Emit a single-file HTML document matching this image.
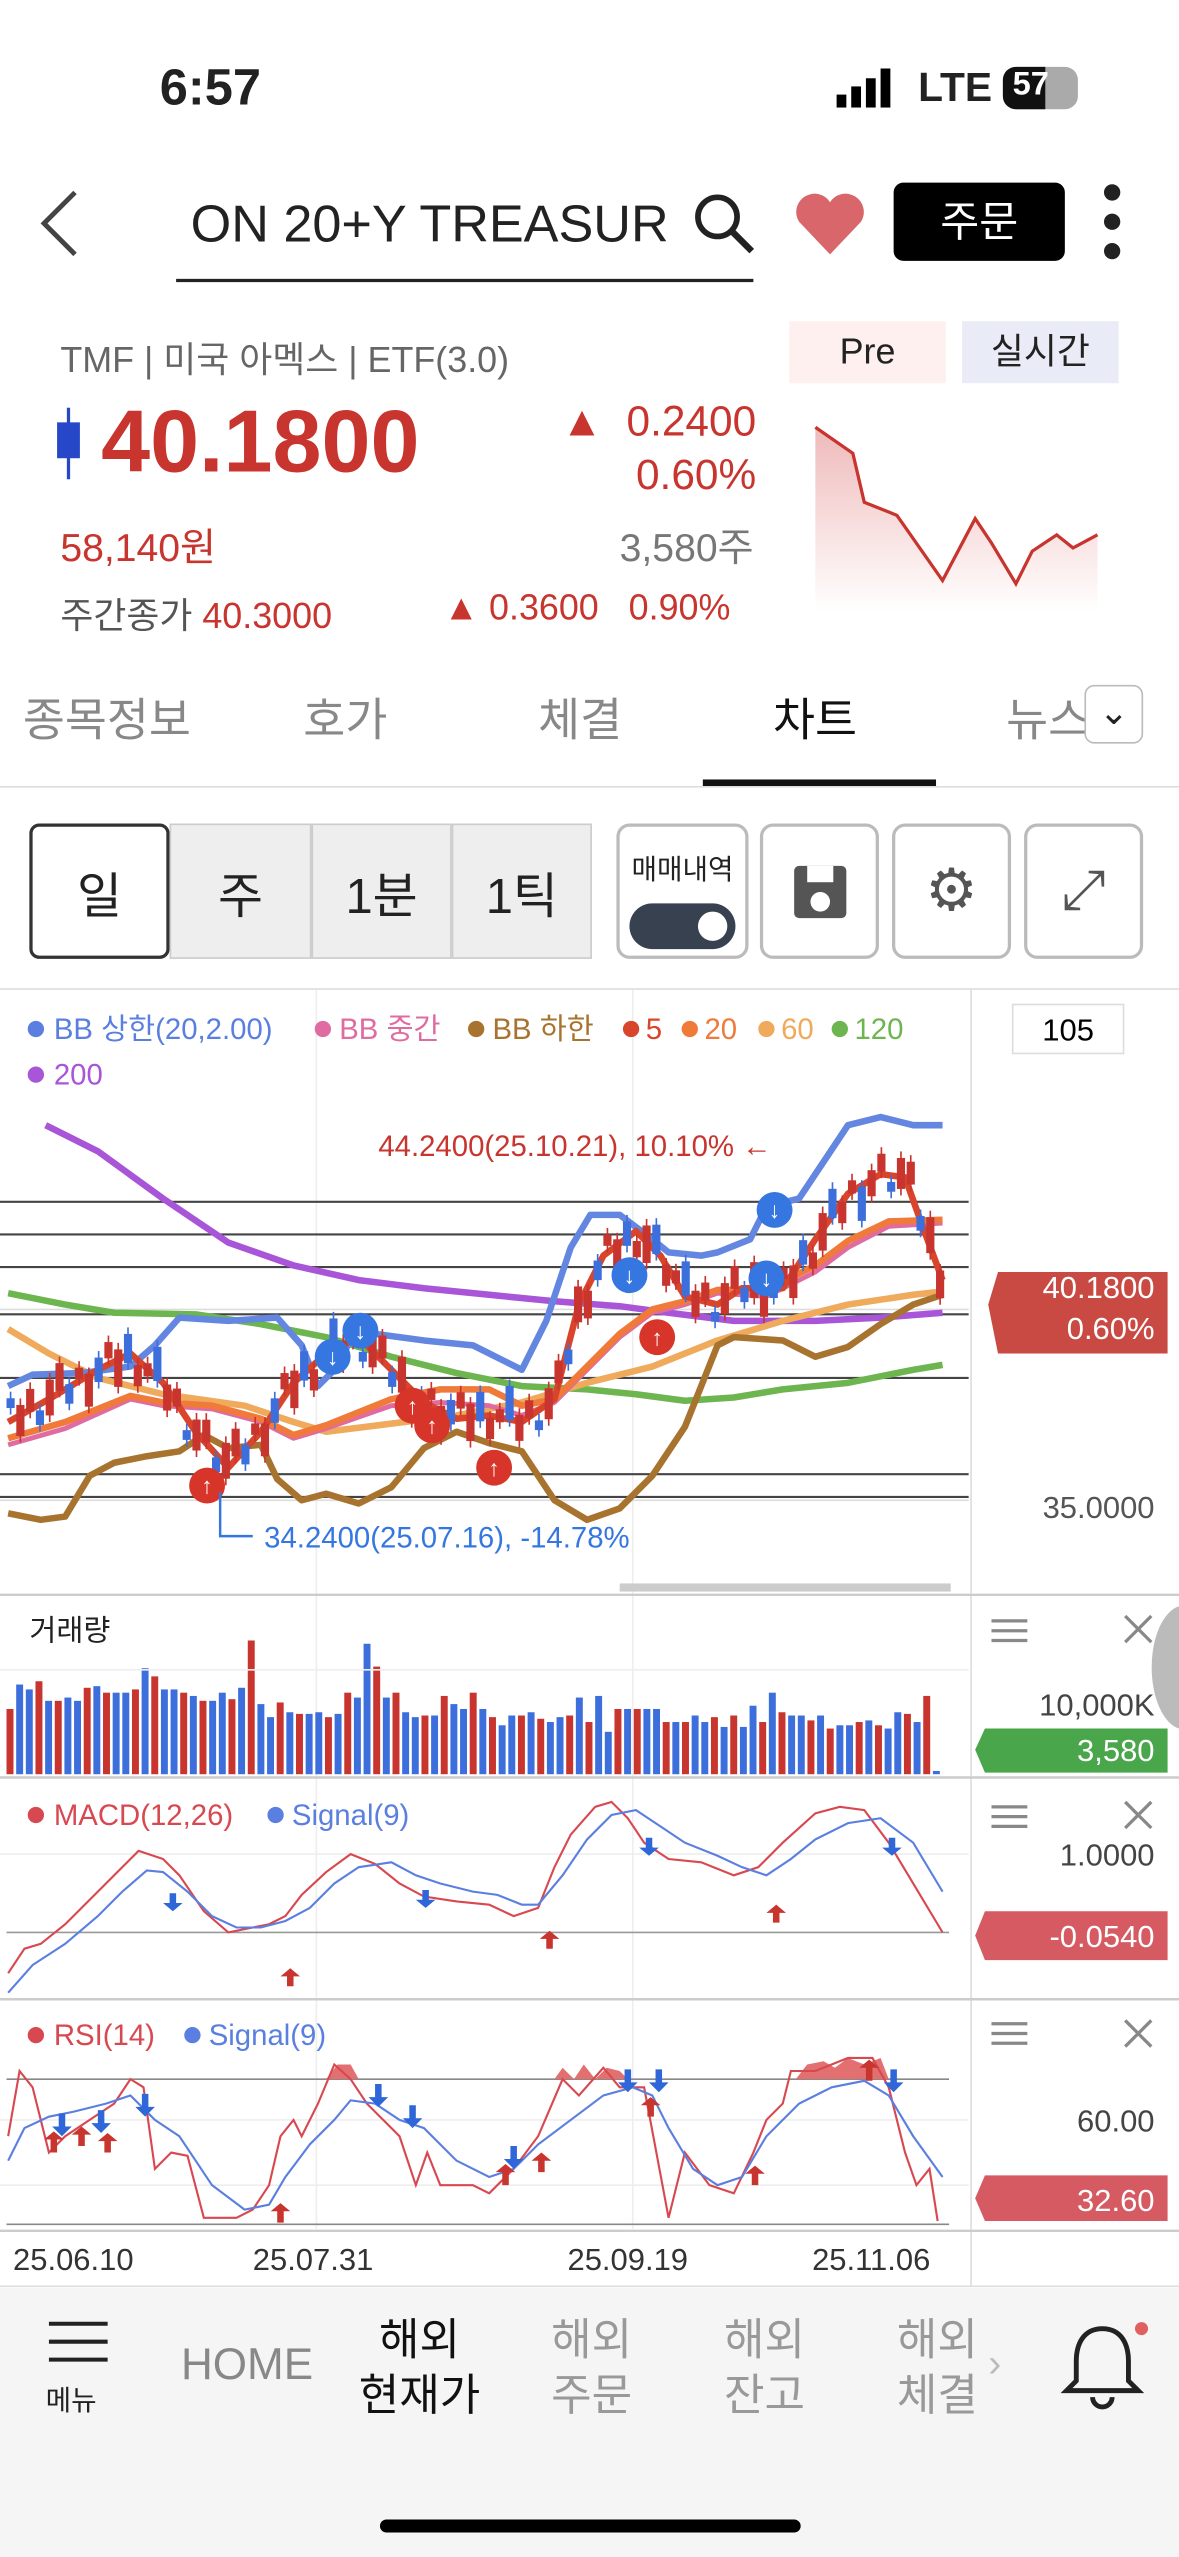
<!DOCTYPE html>
<html><head><meta charset="utf-8">
<style>
*{margin:0;padding:0;box-sizing:border-box}
html,body{width:1179px;height:2556px;overflow:hidden;background:#fff}
#w{position:absolute;left:0;top:0;width:723px;height:1568px;transform:scale(1.63071);transform-origin:0 0;font-family:"Liberation Sans","Noto Sans CJK KR",sans-serif;color:#222}
.a{position:absolute;white-space:nowrap}
.btn{position:absolute;top:505px;height:83px;background:#eee;border:1px solid #ccc;font-size:30px;display:flex;align-items:center;justify-content:center}
.ib{position:absolute;top:505px;width:73px;height:83px;border:2px solid #bbb;border-radius:8px;background:#fff}
</style></head><body><div id="w">
<div class="a" style="left:98px;top:36px;font-size:31px;font-weight:bold">6:57</div>
<svg class="a" style="left:513px;top:42px" width="40" height="24"><rect x="0" y="16" width="6" height="8" fill="#000"/><rect x="9" y="11" width="6" height="13" fill="#000"/><rect x="18" y="6" width="6" height="18" fill="#000"/><rect x="27" y="0" width="6" height="24" fill="#000"/></svg>
<div class="a" style="left:563px;top:40px;font-size:25px;font-weight:bold">LTE</div>
<div class="a" style="left:615px;top:41px;width:46px;height:26px;border-radius:8px;background:#aaa"><div style="width:26px;height:26px;background:#111;border-radius:8px 0 0 8px;color:#fff;font-size:20px;font-weight:bold;padding-left:6px">57</div></div>
<svg class="a" style="left:22px;top:115px" width="30" height="44"><polyline points="24,3 5,22 24,41" fill="none" stroke="#444" stroke-width="3"/></svg>
<div class="a" style="left:108px;top:115px;width:354px;height:58px;border-bottom:2px solid #222;overflow:hidden;font-size:32px;padding-top:4px">&nbsp;ON 20+Y TREASUR</div>
<svg class="a" style="left:424px;top:117px" width="40" height="40"><circle cx="16" cy="16" r="12" fill="none" stroke="#222" stroke-width="3.5"/><line x1="25" y1="25" x2="37" y2="37" stroke="#222" stroke-width="4"/></svg>
<svg class="a" style="left:486px;top:116px" width="46" height="42"><path d="M23,40 L4,20 A10,10 0 0 1 23,8 A10,10 0 0 1 42,20 Z" fill="#d9666a"/></svg>
<div class="a" style="left:548px;top:112px;width:105px;height:48px;background:#000;border-radius:6px;color:#fff;font-size:26px;text-align:center;line-height:48px">주문</div>
<svg class="a" style="left:674px;top:112px" width="16" height="48"><circle cx="8" cy="6" r="5" fill="#222"/><circle cx="8" cy="24" r="5" fill="#222"/><circle cx="8" cy="42" r="5" fill="#222"/></svg>
<div class="a" style="left:37px;top:203px;font-size:22px;color:#666">TMF | 미국 아멕스 | ETF(3.0)</div>
<div class="a" style="left:484px;top:197px;width:96px;height:38px;background:#fdf0ef;font-size:22px;text-align:center;line-height:38px">Pre</div>
<div class="a" style="left:590px;top:197px;width:96px;height:38px;background:#e9ecf6;font-size:22px;text-align:center;line-height:38px">실시간</div>
<svg class="a" style="left:34px;top:250px" width="16" height="44"><line x1="8" y1="0" x2="8" y2="44" stroke="#2747c9" stroke-width="2"/><rect x="1" y="9" width="14" height="22" fill="#2747c9"/></svg>
<div class="a" style="left:62px;top:240px;font-size:54px;font-weight:bold;color:#c8342e">40.1800</div>
<div class="a" style="left:344px;top:243px;font-size:26px;color:#c8342e">▲ &nbsp;0.2400</div>
<div class="a" style="left:390px;top:276px;font-size:26px;color:#c8342e">0.60%</div>
<div class="a" style="left:37px;top:316px;font-size:24px;color:#c8342e">58,140원</div>
<div class="a" style="left:380px;top:316px;font-size:24px;color:#777">3,580주</div>
<div class="a" style="left:37px;top:360px;font-size:22px;color:#555">주간종가 <span style="color:#c8342e">40.3000</span></div>
<div class="a" style="left:272px;top:360px;font-size:22px;color:#c8342e">▲ 0.3600 &nbsp;&nbsp;0.90%</div>
<svg class="a" style="left:498px;top:258px" width="178" height="120"><defs><linearGradient id="g" x1="0" y1="0" x2="0" y2="1"><stop offset="0" stop-color="#e79b9b"/><stop offset="1" stop-color="#fff"/></linearGradient></defs><polygon points="2,4 25,20 32,50 52,58 80,98 100,60 110,75 125,100 135,80 150,70 160,78 175,70 175,118 2,118" fill="url(#g)" opacity=".7"/><polyline points="2,4 25,20 32,50 52,58 80,98 100,60 110,75 125,100 135,80 150,70 160,78 175,70" fill="none" stroke="#c8342e" stroke-width="2"/></svg>
<div class="a" style="left:14px;top:420px;font-size:28px;color:#888">종목정보</div>
<div class="a" style="left:186px;top:420px;font-size:28px;color:#888">호가</div>
<div class="a" style="left:330px;top:420px;font-size:28px;color:#888">체결</div>
<div class="a" style="left:474px;top:420px;font-size:28px;color:#111">차트</div>
<div class="a" style="left:617px;top:420px;font-size:28px;color:#888">뉴스</div>
<div class="a" style="left:665px;top:420px;width:36px;height:36px;border:1px solid #bbb;border-radius:6px;background:#fff;text-align:center;font-size:22px;line-height:32px">⌄</div>
<div class="a" style="left:431px;top:478px;width:143px;height:4px;background:#111"></div>
<div class="a" style="left:0;top:482px;width:723px;height:1px;background:#ddd"></div>
<div class="btn" style="left:18px;width:86px;background:#fff;border:2px solid #333;border-radius:6px">일</div>
<div class="btn" style="left:104px;width:87px">주</div>
<div class="btn" style="left:191px;width:86px">1분</div>
<div class="btn" style="left:277px;width:86px">1틱</div>
<div class="ib" style="left:378px;width:81px"><div style="font-size:17px;text-align:center;margin-top:12px">매매내역</div><div style="margin:10px 6px 0;height:28px;background:#38414f;border-radius:14px;position:relative"><div style="position:absolute;right:5px;top:5px;width:18px;height:18px;border-radius:9px;background:#fff"></div></div></div>
<div class="ib" style="left:466px"><div style="margin:24px auto;width:32px;height:32px;background:#555;border-radius:3px;position:relative"><div style="position:absolute;left:8px;top:0;width:16px;height:10px;background:#fff"></div><div style="position:absolute;left:10px;top:16px;width:12px;height:12px;border-radius:6px;background:#fff"></div></div></div>
<div class="ib" style="left:547px;font-size:36px;color:#555;text-align:center;line-height:78px">⚙</div>
<div class="ib" style="left:628px;font-size:34px;color:#555;text-align:center;line-height:78px">⤢</div>
<div class="a" style="left:0;top:606px;width:723px;height:1px;background:#ddd"></div>
<div class="a" style="left:595px;top:607px;width:1px;height:795px;background:#ddd"></div>
<svg class="a" style="left:0;top:0" width="723" height="1568" id="ch">
<g stroke="#eee" stroke-width="1"><line x1="194" y1="607" x2="194" y2="1367"/><line x1="388" y1="607" x2="388" y2="1367"/></g>
<g stroke="#444" stroke-width="1.3"><line x1="0" y1="737" x2="594" y2="737"/><line x1="0" y1="757" x2="594" y2="757"/><line x1="0" y1="777" x2="594" y2="777"/><line x1="0" y1="806" x2="594" y2="806"/><line x1="0" y1="845" x2="594" y2="845"/><line x1="0" y1="904" x2="594" y2="904"/><line x1="0" y1="918" x2="594" y2="918"/></g>
<line x1="0" y1="803" x2="594" y2="803" stroke="#ddd"/>
<line x1="0" y1="920" x2="594" y2="920" stroke="#ddd"/>
<g fill="none" stroke-width="4" stroke-linejoin="round">
<polyline stroke="#a855d8" points="28,690 60,706 100,735 140,762 180,776 220,785 260,790 300,794 340,798 380,801 410,805 450,810 500,810 540,808 578,805"/>
<polyline stroke="#6db54f" points="5,793 40,800 70,805 120,806 160,812 200,820 240,832 280,842 320,850 360,852 390,855 420,859 450,857 480,852 520,848 560,840 578,837"/>
<polyline stroke="#efaa5c" points="5,815 30,830 60,845 100,855 150,862 180,872 200,878 240,873 280,868 320,860 360,848 400,838 440,822 480,810 520,800 560,794 578,792"/>
<polyline stroke="#6386e0" points="5,850 20,843 50,842 80,838 95,825 110,808 140,810 170,808 185,825 195,850 205,840 215,822 230,818 260,822 290,825 310,835 320,840 335,810 350,765 362,745 380,745 400,760 410,768 430,770 440,768 460,760 470,740 490,735 510,705 520,690 540,685 560,690 578,690"/>
<polyline stroke="#a8732e" points="5,928 25,932 40,930 55,905 70,897 90,893 110,890 125,880 140,888 160,886 170,907 185,920 200,916 220,922 240,912 260,888 280,878 300,885 320,890 340,920 360,932 380,925 400,905 420,875 430,850 440,825 450,820 480,822 500,832 520,826 540,812 560,800 578,794"/>
<polyline stroke="#e06ba0" points="5,886 40,876 80,858 100,862 130,864 160,872 180,882 200,876 240,862 270,860 300,862 320,868 340,860 360,840 380,820 400,805 420,800 440,793 470,795 500,780 520,765 545,752 578,750" stroke-width="3"/>
<polyline stroke="#ef7a3a" points="5,882 40,872 80,856 100,860 130,862 160,870 180,880 200,874 240,858 270,852 300,852 320,862 340,858 360,838 380,818 400,803 420,798 440,791 470,791 500,776 520,761 545,749 578,748"/>
<polyline stroke="#d8452a" points="5,872 30,858 60,840 80,830 100,848 120,878 140,900 160,878 180,848 200,830 220,820 240,840 260,860 280,870 300,868 320,872 340,858 355,800 370,770 390,755 405,770 420,795 440,800 455,790 480,790 500,760 520,732 540,720 555,722 565,750 578,785"/>
</g>
<g id="cd"></g>
<g font-size="14" fill="#fff" font-weight="bold" text-anchor="middle">
<g fill="#d8352a"><circle cx="127" cy="911" r="11"/><circle cx="253" cy="862" r="11"/><circle cx="265" cy="874" r="11"/><circle cx="303" cy="900" r="11"/><circle cx="403" cy="820" r="11"/></g>
<g fill="#3576e0"><circle cx="204" cy="832" r="11"/><circle cx="221" cy="816" r="11"/><circle cx="386" cy="782" r="11"/><circle cx="470" cy="784" r="11"/><circle cx="475" cy="742" r="11"/></g>
<text x="127" y="916">↑</text><text x="253" y="867">↑</text><text x="265" y="879">↑</text><text x="303" y="905">↑</text><text x="403" y="825">↑</text>
<text x="204" y="837">↓</text><text x="221" y="821">↓</text><text x="386" y="787">↓</text><text x="470" y="789">↓</text><text x="475" y="747">↓</text>
</g>
<polyline points="135,915 135,942 155,942" fill="none" stroke="#3576e0" stroke-width="1.5"/>
<text x="162" y="949" font-size="18" fill="#3576e0">34.2400(25.07.16), -14.78%</text>
<text x="232" y="709" font-size="18" fill="#c8342e">44.2400(25.10.21), 10.10% ←</text>
<rect x="380" y="971" width="203" height="5" fill="#ccc"/>
<line x1="0" y1="978" x2="723" y2="978" stroke="#ccc" stroke-width="1.5"/>
<g id="vol"></g>
<line x1="0" y1="1024" x2="594" y2="1024" stroke="#eee"/>
<line x1="0" y1="1090" x2="723" y2="1090" stroke="#ccc" stroke-width="1.5"/>
<line x1="0" y1="1137" x2="594" y2="1137" stroke="#eee"/>
<line x1="4" y1="1185" x2="582" y2="1185" stroke="#999"/>
<g fill="none" stroke-width="1.3">
<polyline stroke="#d84850" points="5,1210 15,1195 25,1192 40,1180 60,1160 75,1145 85,1135 100,1140 110,1150 125,1172 140,1185 150,1183 165,1180 175,1175 185,1162 200,1148 215,1137 230,1143 245,1155 260,1163 280,1166 300,1168 315,1175 330,1170 340,1145 350,1125 365,1108 375,1105 385,1115 395,1130 410,1140 430,1142 450,1150 465,1145 480,1130 500,1112 515,1108 530,1110 545,1130 560,1155 578,1185"/>
<polyline stroke="#5b7fe0" points="5,1222 20,1205 40,1192 60,1175 75,1160 90,1147 100,1148 115,1160 130,1175 145,1182 160,1182 175,1178 190,1170 205,1155 220,1145 240,1142 255,1150 270,1155 290,1160 305,1162 320,1168 330,1168 345,1150 360,1128 375,1113 390,1110 405,1120 420,1130 440,1138 455,1145 470,1150 485,1140 500,1128 520,1118 540,1115 560,1130 578,1160"/>
</g>
<g fill="#c8342e"><polygon points="178,1207 172,1212 176,1212 176,1218 180,1218 180,1212 184,1212"/><polygon points="337,1184 331,1189 335,1189 335,1195 339,1195 339,1189 343,1189"/><polygon points="476,1168 470,1173 474,1173 474,1179 478,1179 478,1173 482,1173"/></g>
<g fill="#2f67d8"><polygon points="106,1172 100,1167 104,1167 104,1161 108,1161 108,1167 112,1167"/><polygon points="261,1170 255,1165 259,1165 259,1159 263,1159 263,1165 267,1165"/><polygon points="398,1138 392,1133 396,1133 396,1127 400,1127 400,1133 404,1133"/><polygon points="547,1138 541,1133 545,1133 545,1127 549,1127 549,1133 553,1133"/></g>
<line x1="0" y1="1226" x2="723" y2="1226" stroke="#ccc" stroke-width="1.5"/>
<line x1="4" y1="1275" x2="582" y2="1275" stroke="#888"/>
<line x1="0" y1="1300" x2="594" y2="1300" stroke="#eee"/>
<line x1="0" y1="1340" x2="594" y2="1340" stroke="#eee"/>
<line x1="4" y1="1364" x2="582" y2="1364" stroke="#888"/>
<g fill="#e27070"><polygon points="200,1275 207,1266 215,1266 220,1275"/><polygon points="340,1275 345,1268 352,1275 358,1266 365,1275 372,1268 380,1270 385,1275"/><polygon points="488,1275 495,1266 505,1264 512,1268 520,1262 530,1266 540,1262 545,1275"/></g>
<g fill="none" stroke-width="1.3">
<polyline stroke="#d84850" points="5,1310 12,1270 20,1280 30,1320 40,1310 55,1300 70,1290 80,1275 88,1280 95,1330 105,1320 115,1322 125,1360 138,1360 145,1360 155,1355 165,1340 172,1310 180,1300 185,1310 195,1290 205,1266 215,1275 225,1290 235,1300 245,1310 255,1340 262,1320 270,1340 280,1340 290,1340 300,1345 315,1330 330,1310 345,1275 355,1285 370,1268 380,1280 395,1280 410,1360 420,1320 435,1340 450,1345 462,1320 470,1300 480,1290 485,1270 500,1270 520,1262 535,1262 545,1280 555,1320 562,1340 570,1330 575,1362"/>
<polyline stroke="#5b7fe0" points="5,1325 15,1305 30,1298 45,1295 65,1290 80,1285 95,1300 110,1310 130,1340 150,1355 165,1352 175,1335 190,1315 205,1300 215,1288 230,1290 245,1300 260,1305 280,1325 300,1335 315,1330 330,1315 350,1300 370,1285 388,1280 400,1285 410,1305 425,1330 440,1340 455,1335 470,1310 490,1290 510,1280 530,1276 545,1285 560,1310 578,1335"/>
</g>
<g fill="#c8342e"><polygon points="33,1307 27,1312 31,1312 31,1320 35,1320 35,1312 39,1312"/><polygon points="50,1304 44,1309 48,1309 48,1316 52,1316 52,1309 56,1309"/><polygon points="66,1308 60,1313 64,1313 64,1320 68,1320 68,1313 72,1313"/><polygon points="172,1351 166,1356 170,1356 170,1363 174,1363 174,1356 178,1356"/><polygon points="310,1327 304,1332 308,1332 308,1340 312,1340 312,1332 316,1332"/><polygon points="332,1320 326,1325 330,1325 330,1332 334,1332 334,1325 338,1325"/><polygon points="399,1286 393,1291 397,1291 397,1298 401,1298 401,1291 405,1291"/><polygon points="463,1328 457,1333 461,1333 461,1340 465,1340 465,1333 469,1333"/><polygon points="533,1263 527,1268 531,1268 531,1276 535,1276 535,1268 539,1268"/></g>
<g fill="#2f67d8"><polygon points="38,1310 32,1304 36,1304 36,1296 40,1296 40,1304 44,1304"/><polygon points="62,1308 56,1302 60,1302 60,1294 64,1294 64,1302 68,1302"/><polygon points="89,1298 83,1292 87,1292 87,1284 91,1284 91,1292 95,1292"/><polygon points="232,1292 226,1286 230,1286 230,1278 234,1278 234,1286 238,1286"/><polygon points="253,1305 247,1299 251,1299 251,1291 255,1291 255,1299 259,1299"/><polygon points="315,1330 309,1324 313,1324 313,1316 317,1316 317,1324 321,1324"/><polygon points="385,1283 379,1277 383,1277 383,1269 387,1269 387,1277 391,1277"/><polygon points="404,1283 398,1277 402,1277 402,1269 406,1269 406,1277 410,1277"/><polygon points="548,1283 542,1277 546,1277 546,1269 550,1269 550,1277 554,1277"/></g>
<line x1="0" y1="1368" x2="723" y2="1368" stroke="#ccc" stroke-width="1.5"/>
<g font-size="19" fill="#333"><text x="8" y="1392">25.06.10</text><text x="155" y="1392">25.07.31</text><text x="348" y="1392">25.09.19</text><text x="498" y="1392">25.11.06</text></g>
<line x1="0" y1="1402" x2="723" y2="1402" stroke="#ddd"/>
<g font-size="18"><circle cx="22" cy="631" r="5" fill="#5b7fe0"/><text x="33" y="637" fill="#5b7fe0">BB 상한(20,2.00)</text><circle cx="198" cy="631" r="5" fill="#e06ba0"/><text x="208" y="637" fill="#e06ba0">BB 중간</text><circle cx="292" cy="631" r="5" fill="#a8732e"/><text x="302" y="637" fill="#a8732e">BB 하한</text><circle cx="387" cy="631" r="5" fill="#d8452a"/><text x="396" y="637" fill="#d8452a">5</text><circle cx="423" cy="631" r="5" fill="#ef7a3a"/><text x="432" y="637" fill="#ef7a3a">20</text><circle cx="470" cy="631" r="5" fill="#efaa5c"/><text x="479" y="637" fill="#efaa5c">60</text><circle cx="515" cy="631" r="5" fill="#6db54f"/><text x="524" y="637" fill="#6db54f">120</text><circle cx="22" cy="659" r="5" fill="#a855d8"/><text x="33" y="665" fill="#a855d8">200</text>
<text x="18" y="1006" fill="#222">거래량</text>
<circle cx="22" cy="1113" r="5" fill="#d84850"/><text x="33" y="1119" fill="#d84850">MACD(12,26)</text><circle cx="169" cy="1113" r="5" fill="#5b7fe0"/><text x="179" y="1119" fill="#5b7fe0">Signal(9)</text>
<circle cx="22" cy="1248" r="5" fill="#d84850"/><text x="33" y="1254" fill="#d84850">RSI(14)</text><circle cx="118" cy="1248" r="5" fill="#5b7fe0"/><text x="128" y="1254" fill="#5b7fe0">Signal(9)</text></g>
<rect x="621" y="616" width="68" height="30" fill="#fff" stroke="#ddd"/><text x="655" y="638" font-size="19" text-anchor="middle">105</text>
<polygon points="606,800 612,780 716,780 716,830 612,830" fill="#c94a42"/>
<text x="708" y="796" font-size="19" fill="#fff" text-anchor="end">40.1800</text><text x="708" y="821" font-size="19" fill="#fff" text-anchor="end">0.60%</text>
<text x="708" y="931" font-size="19" fill="#555" text-anchor="end">35.0000</text>
<g stroke="#888" stroke-width="2"><line x1="608" y1="994" x2="630" y2="994"/><line x1="608" y1="1000" x2="630" y2="1000"/><line x1="608" y1="1006" x2="630" y2="1006"/><line x1="608" y1="1108" x2="630" y2="1108"/><line x1="608" y1="1114" x2="630" y2="1114"/><line x1="608" y1="1120" x2="630" y2="1120"/><line x1="608" y1="1241" x2="630" y2="1241"/><line x1="608" y1="1247" x2="630" y2="1247"/><line x1="608" y1="1253" x2="630" y2="1253"/>
<line x1="690" y1="991" x2="706" y2="1007"/><line x1="706" y1="991" x2="690" y2="1007"/><line x1="690" y1="1105" x2="706" y2="1121"/><line x1="706" y1="1105" x2="690" y2="1121"/><line x1="690" y1="1239" x2="706" y2="1255"/><line x1="706" y1="1239" x2="690" y2="1255"/></g>
<text x="708" y="1052" font-size="19" fill="#444" text-anchor="end">10,000K</text>
<polygon points="598,1073 604,1060 716,1060 716,1087 604,1087" fill="#4aa64a"/><text x="708" y="1080" font-size="19" fill="#fff" text-anchor="end">3,580</text>
<text x="708" y="1144" font-size="19" fill="#444" text-anchor="end">1.0000</text>
<polygon points="598,1187 604,1172 716,1172 716,1202 604,1202" fill="#d65a62"/><text x="708" y="1194" font-size="19" fill="#fff" text-anchor="end">-0.0540</text>
<text x="708" y="1307" font-size="19" fill="#444" text-anchor="end">60.00</text>
<polygon points="598,1348 604,1334 716,1334 716,1362 604,1362" fill="#d65a62"/><text x="708" y="1356" font-size="19" fill="#fff" text-anchor="end">32.60</text>
<path d="M723,985 A20,38 0 0 0 723,1060 Z" fill="#bbb"/>
</svg>
<div class="a" style="left:0;top:1403px;width:723px;height:165px;background:#f5f5f5"></div>
<svg class="a" style="left:28px;top:1422px" width="40" height="30"><g stroke="#222" stroke-width="2.5"><line x1="2" y1="3" x2="38" y2="3"/><line x1="2" y1="14" x2="38" y2="14"/><line x1="2" y1="25" x2="38" y2="25"/></g></svg>
<div class="a" style="left:28px;top:1458px;font-size:17px">메뉴</div>
<div class="a" style="left:111px;top:1435px;font-size:27px;color:#888">HOME</div>
<div class="a" style="left:220px;top:1418px;font-size:27px;color:#111;text-align:center;line-height:34px">해외<br>현재가</div>
<div class="a" style="left:338px;top:1418px;font-size:27px;color:#999;text-align:center;line-height:34px">해외<br>주문</div>
<div class="a" style="left:444px;top:1418px;font-size:27px;color:#999;text-align:center;line-height:34px">해외<br>잔고</div>
<div class="a" style="left:550px;top:1418px;font-size:27px;color:#999;text-align:center;line-height:34px">해외<br>체결</div>
<div class="a" style="left:606px;top:1436px;font-size:24px;color:#bbb">›</div>
<svg class="a" style="left:648px;top:1422px" width="60" height="56"><path d="M28,6 C16,6 12,16 12,26 L12,38 L6,44 L50,44 L44,38 L44,26 C44,16 40,6 28,6 Z" fill="none" stroke="#222" stroke-width="3"/><path d="M22,48 A6,6 0 0 0 34,48" fill="none" stroke="#222" stroke-width="3"/><circle cx="52" cy="6" r="4" fill="#e06060"/></svg>
<div class="a" style="left:233px;top:1545px;width:258px;height:8px;border-radius:4px;background:#000"></div>
</div>
<script>
var ns="http://www.w3.org/2000/svg";
function r(g,x,y,w,h,c){var e=document.createElementNS(ns,"rect");e.setAttribute("x",x);e.setAttribute("y",y);e.setAttribute("width",w);e.setAttribute("height",h);e.setAttribute("fill",c);g.appendChild(e);}
var vh=[40,55,52,57,45,45,47,45,53,54,50,50,50,52,65,60,52,52,50,48,45,45,50,46,53,82,43,35,44,38,37,37,38,35,37,50,47,80,66,47,50,38,35,36,36,48,43,40,50,40,35,30,36,36,38,34,32,35,36,47,32,48,26,40,40,40,40,40,32,32,32,36,32,35,29,36,29,42,32,50,38,36,36,33,36,28,30,30,32,33,30,28,38,37,32,48,2];
var g=document.getElementById("vol"),n=vh.length,dx=574/n;
for(var i=0;i<n;i++){var h=vh[i];r(g,4+i*dx,1088-h,dx*0.72,h,(i*7%5<2)?"#c8342e":"#3d6fdc");}
var cd=document.getElementById("cd");
var pts=[[5,872],[30,858],[60,840],[80,830],[100,848],[120,878],[140,900],[160,878],[180,848],[200,830],[220,820],[240,840],[260,860],[280,870],[300,868],[320,872],[340,858],[355,800],[370,770],[390,755],[405,770],[420,795],[440,800],[455,790],[480,790],[500,760],[520,732],[540,720],[555,722],[565,750],[578,785]];
function yAt(x){for(var k=0;k<pts.length-1;k++){if(x>=pts[k][0]&&x<=pts[k+1][0]){var t=(x-pts[k][0])/(pts[k+1][0]-pts[k][0]);return pts[k][1]+t*(pts[k+1][1]-pts[k][1]);}}return 785;}
for(var i=0;i<96;i++){var x=6+i*6,y=yAt(x)+((i*37)%23-11),h=6+(i*13)%18,c=(i*5%3==0)?"#3d6fdc":"#c8342e";r(cd,x,y-h/2-4,1,h+8,c);r(cd,x-2,y-h/2,5,h,c);}
</script>
</body></html>
